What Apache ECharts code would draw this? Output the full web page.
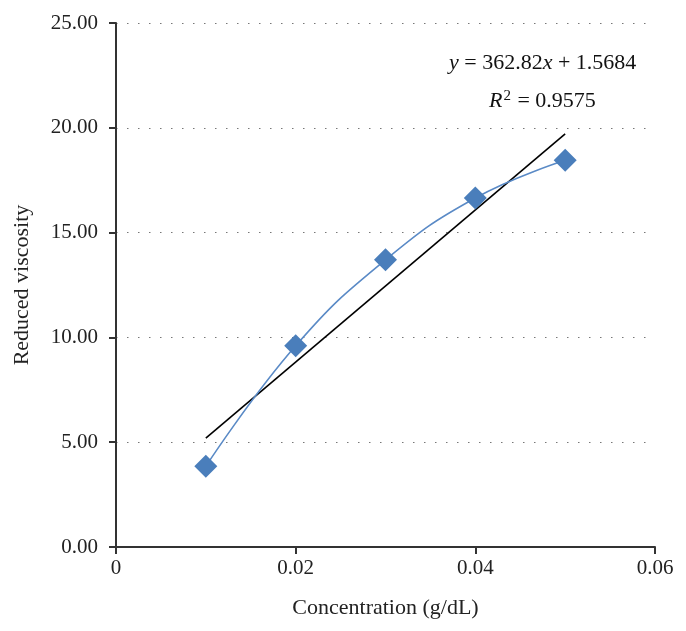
<!DOCTYPE html>
<html>
<head>
<meta charset="utf-8">
<script src="https://cdn.jsdelivr.net/npm/echarts@6/dist/echarts.min.js"></script>
<style>html,body{margin:0;padding:0;background:#fff}#c{width:686px;height:631px}</style>
</head>
<body>
<div id="c"></div>
<script>
const concentration = [0.01, 0.02, 0.03, 0.04, 0.05];
const reducedViscosity = [3.85, 9.6, 13.7, 16.65, 18.45];
const trendSlope = 362.82;
const trendIntercept = 1.5684;
const rSquared = 0.9575;
const xTicks = [0, 0.02, 0.04, 0.06];
const yTicks = [0, 5, 10, 15, 20, 25];

const font = '"Liberation Serif", "Times New Roman", serif';
const trendX = [concentration[0], concentration[concentration.length - 1]];
const trendData = trendX.map(x => [x, trendSlope * x + trendIntercept]);
const pointData = concentration.map((x, i) => [x, reducedViscosity[i]]);

const chart = echarts.init(document.getElementById('c'));
chart.setOption({
  animation: false,
  backgroundColor: '#fff',
  grid: { left: 116, right: 31, top: 23, bottom: 84 },
  xAxis: {
    type: 'value',
    min: xTicks[0], max: xTicks[xTicks.length - 1], interval: 0.02,
    name: 'Concentration (g/dL)', nameLocation: 'middle', nameGap: 50,
    nameTextStyle: { fontFamily: font, fontSize: 22, color: '#222' },
    axisLine: { show: true, onZero: false, lineStyle: { color: '#333', width: 2 } },
    axisTick: { show: true, length: 7, lineStyle: { color: '#333', width: 2 } },
    axisLabel: { fontFamily: font, fontSize: 21, color: '#222', margin: 11,
      formatter: v => v === 0 ? '0' : v.toFixed(2) },
    splitLine: { show: false }
  },
  yAxis: {
    type: 'value',
    min: yTicks[0], max: yTicks[yTicks.length - 1], interval: 5,
    name: 'Reduced viscosity', nameLocation: 'middle', nameGap: 83,
    nameTextStyle: { fontFamily: font, fontSize: 22, color: '#222' },
    axisLine: { show: true, lineStyle: { color: '#333', width: 2 } },
    axisTick: { show: true, length: 7, lineStyle: { color: '#333', width: 2 } },
    axisLabel: { fontFamily: font, fontSize: 21, color: '#222', margin: 18,
      formatter: v => v.toFixed(2) },
    splitLine: { show: true, lineStyle: { color: '#777', width: 1, type: [1.5, 9.5] } }
  },
  series: [
    {
      type: 'line',
      data: trendData,
      symbol: 'none',
      lineStyle: { color: '#000', width: 1.6 },
      z: 2
    },
    {
      type: 'line',
      data: pointData,
      smooth: 0.45,
      symbol: 'diamond',
      symbolSize: 23,
      itemStyle: { color: '#4a7ebb' },
      lineStyle: { color: '#5a8ac6', width: 1.6 },
      z: 3
    }
  ],
  graphic: [
    {
      type: 'text', left: 449, top: 52,
      style: {
        text: '{i|y} = 362.82{i|x} + 1.5684',
        font: '22px ' + font, fill: '#111',
        rich: { i: { fontStyle: 'italic', fontFamily: font, fontSize: 22 } }
      }
    },
    {
      type: 'text', left: 489, top: 89,
      style: {
        text: '{i|R}{s|2} = ' + rSquared,
        font: '22px ' + font, fill: '#111',
        rich: {
          i: { fontStyle: 'italic', fontFamily: font, fontSize: 22 },
          s: { fontFamily: font, fontSize: 15, verticalAlign: 'top', padding: [0, 1, 10, 1] }
        }
      }
    }
  ]
});
</script>
</body>
</html>
